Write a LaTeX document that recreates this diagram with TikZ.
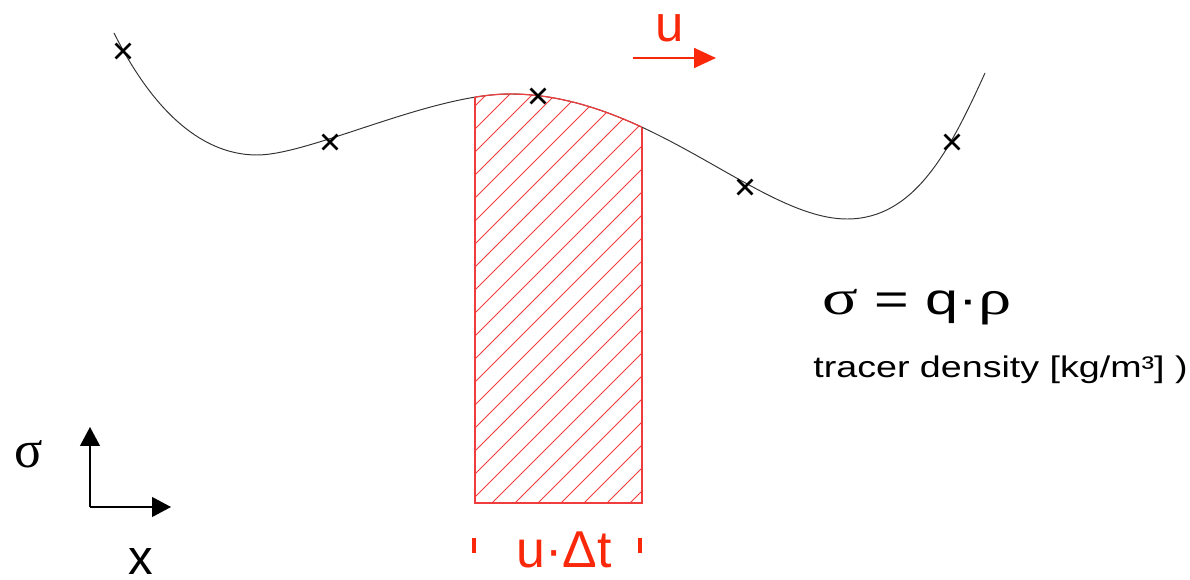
\documentclass[tikz,border=0pt]{standalone}
\usepackage{fontspec}
\setmainfont{Liberation Sans}
\newfontfamily\grk{Liberation Serif}
\usetikzlibrary{arrows.meta,shapes.misc}
\definecolor{hred}{RGB}{240,60,60}
\definecolor{tred}{RGB}{250,40,10}
\definecolor{cgray}{RGB}{50,50,50}
\newcommand{\curvepath}{(114,33) .. controls (149,103) and (197,155) .. (257,155) .. controls (310,155) and (430,94) .. (510,94) .. controls (650,94) and (760,219) .. (847,219) .. controls (915,219) and (950,150) .. (985,73)}
\begin{document}
\begin{tikzpicture}[x=0.02cm,y=-0.02cm,
  xmark/.style={cross out,draw=black,line width=1.5pt,minimum size=7pt,inner sep=0pt},
  curvestyle/.style={draw=cgray,line width=0.55pt},
  hatchline/.style={draw=hred,line width=0.5pt},
  axis/.style={draw=black,line width=0.9pt,-{Triangle[length=10.8pt,width=11.3pt]}},
  redtxt/.style={text=tred,inner sep=0pt}
]
\useasboundingbox (0,0) rectangle (1190,580);
% hatching under curve
\begin{scope}
  \clip (475,503) rectangle (642,0);
  \clip \curvepath -- (985,600) -- (114,600) -- cycle;
  \foreach \k in {-22,...,8}{
    \draw[hatchline] ({492+23*\k},503) -- ({492+23*\k+520},-17);
  }
\end{scope}
% curve
\draw[curvestyle] \curvepath;
\begin{scope}
  \clip (475,0) rectangle (642,600);
  \draw[draw=hred,line width=0.7pt] \curvepath;
\end{scope}
% rectangle sides
\coordinate (rbl) at (475,503);
\coordinate (rbr) at (642,503);
\coordinate (rtl) at (475,97);
\coordinate (rtr) at (642,128);
\draw[draw=hred,line width=0.6pt] (rtl) -- (rbl) -- (rbr) -- (rtr);
% crosses
\node[xmark] (m1) at (123,51) {};
\node[xmark] (m2) at (330,142) {};
\node[xmark] (m3) at (538,96) {};
\node[xmark] (m4) at (745,187) {};
\node[xmark] (m5) at (952,142) {};
% u arrow
\node[redtxt,anchor=base] (u) at (670,42) {\fontsize{29}{29}\selectfont u};
\coordinate (ua) at (633,58);
\coordinate (ub) at (716,58);
\draw[draw=tred,line width=1.2pt,-{Triangle[length=12.5pt,width=11.3pt]}] (ua) -- (ub);
% u dt label
\node[redtxt,anchor=base] (udt) at (564,567) {\fontsize{29.5}{29.5}\selectfont u·Δt};
\coordinate (t1a) at (474,538); \coordinate (t1b) at (474,553);
\coordinate (t2a) at (640,538); \coordinate (t2b) at (640,553);
\draw[draw=tred,line width=2.1pt] (t1a) -- (t1b);
\draw[draw=tred,line width=2.1pt] (t2a) -- (t2b);
% formula
\node[anchor=base west,inner sep=0pt] (f) at (822,315) {\scalebox{1.35}[1]{\fontsize{25}{25}\selectfont{\grk\fontsize{28}{28}\selectfont σ} = q·{\grk\fontsize{28}{28}\selectfont ρ}}};
\node[anchor=base west,inner sep=0pt] (td) at (813,378) {\scalebox{1.26}[1]{\fontsize{17}{17}\selectfont tracer density [kg/m³] )}};
% axes
\coordinate (o) at (90,507);
\coordinate (oy) at (90,427);
\coordinate (ox) at (171,507);
\draw[axis] (o) -- (oy);
\draw[axis] (o) -- (ox);
\node[inner sep=0pt] (sg) at (29,454) {\grk\fontsize{30}{30}\selectfont σ};
\node[inner sep=0pt,anchor=base,text depth=0pt] (xl) at (141,575) {\fontsize{28}{28}\selectfont x};
\end{tikzpicture}
\end{document}
